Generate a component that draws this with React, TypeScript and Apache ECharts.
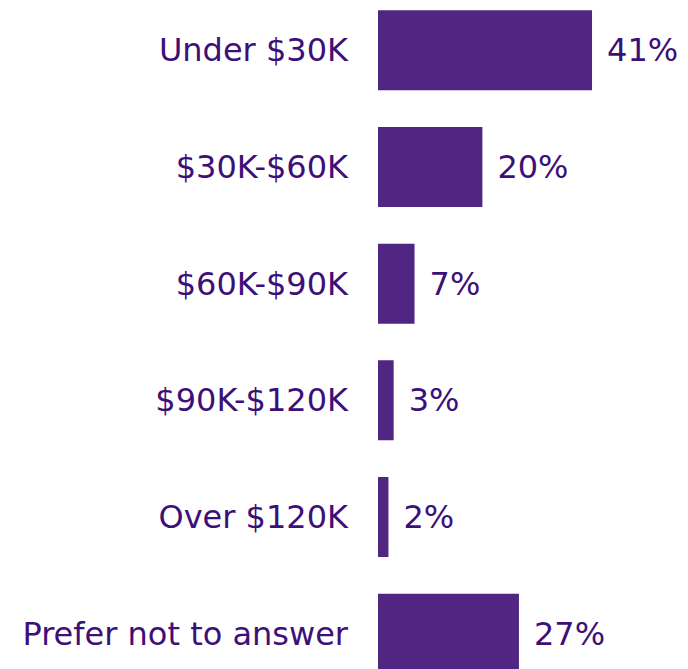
import React, { useEffect, useRef } from "react";
import * as echarts from "echarts";

const categories = [
  "Under $30K",
  "$30K-$60K",
  "$60K-$90K",
  "$90K-$120K",
  "Over $120K",
  "Prefer not to answer",
];
const values = [41, 20, 7, 3, 2, 27];

const BAR_COLOR = "#512682";
const TEXT_COLOR = "#3d0f78";
const FONT = "'DejaVu Sans', Verdana, sans-serif";

export default function App() {
  const ref = useRef<HTMLDivElement>(null);
  useEffect(() => {
    if (!ref.current) return;
    const chart = echarts.init(ref.current, undefined, { renderer: "svg" });
    chart.setOption({
      animation: false,
      grid: { left: 378, top: 0, width: 261, height: 700, containLabel: false },
      xAxis: {
        type: "value",
        min: 0,
        max: 50,
        show: false,
      },
      yAxis: {
        type: "category",
        data: categories,
        inverse: true,
        axisLine: { show: false },
        axisTick: { show: false },
        axisLabel: {
          margin: 30,
          color: TEXT_COLOR,
          fontSize: 32,
          fontFamily: FONT,
        },
      },
      series: [
        {
          type: "bar",
          data: values,
          barWidth: 80,
          itemStyle: { color: BAR_COLOR },
          label: {
            show: true,
            position: "right",
            distance: 15,
            formatter: "{c}%",
            color: TEXT_COLOR,
            fontSize: 32,
            fontFamily: FONT,
          },
        },
      ],
    });
    return () => chart.dispose();
  }, []);
  return (
    <div
      style={{
        position: "absolute",
        left: 0,
        top: 0,
        width: 688,
        height: 669,
        overflow: "hidden",
        background: "#fff",
      }}
    >
      <div
        ref={ref}
        style={{ position: "absolute", left: 0, top: -8, width: 688, height: 720 }}
      />
    </div>
  );
}
